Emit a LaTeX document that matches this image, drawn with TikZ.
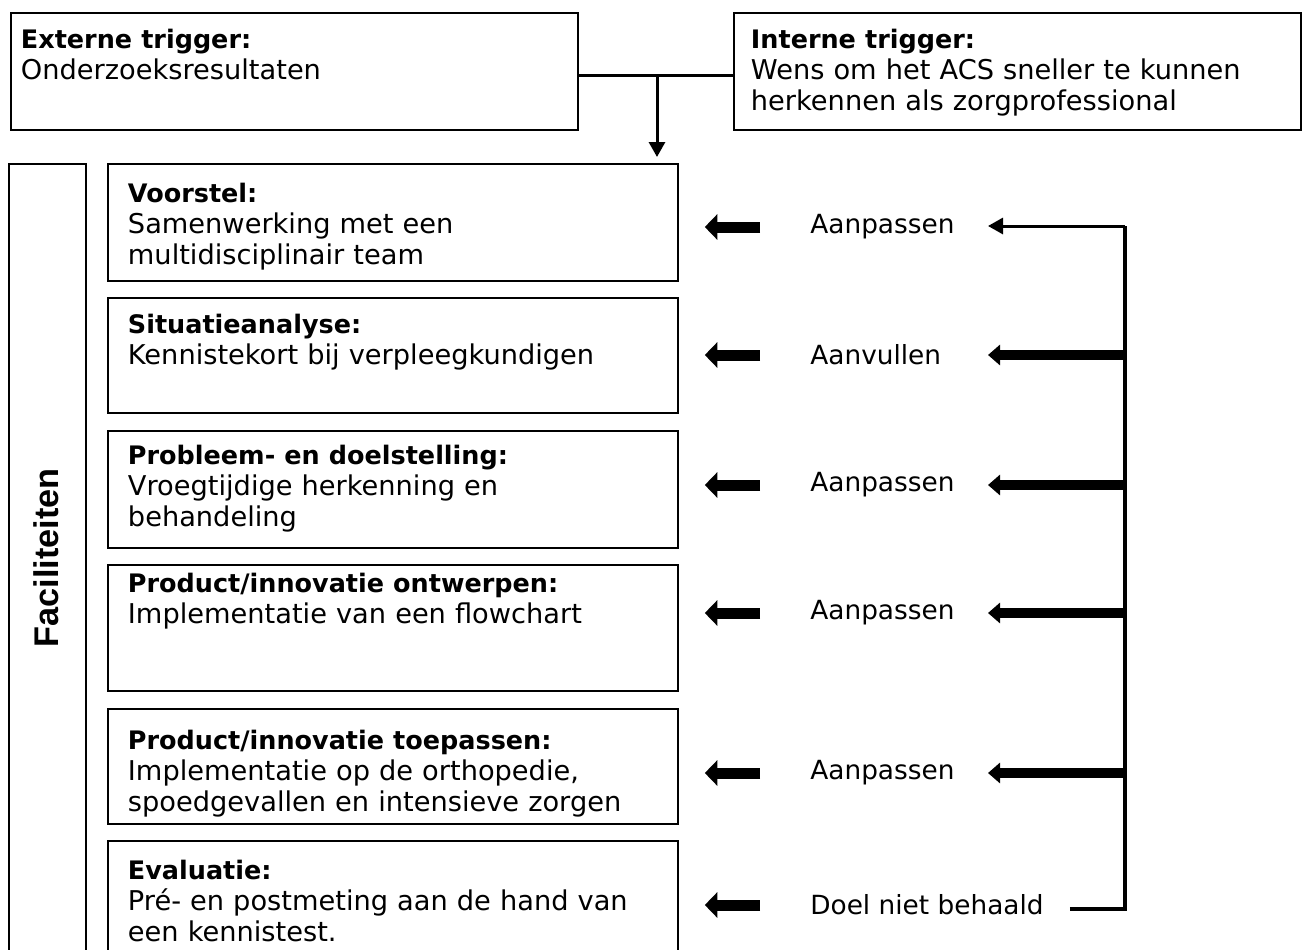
\documentclass[tikz,border=0pt]{standalone}
\usepackage{fontspec}
\setmainfont{DejaVu Sans}
\newfontfamily\facfont{Liberation Sans}
\usetikzlibrary{arrows.meta,positioning}
\newcommand\phasehead[1]{{\fontsize{14.5}{17.6}\selectfont\bfseries #1}}
\tikzset{
  >=Triangle,
  frame/.style={
    draw, line width=1.1pt,
    anchor=north west, align=left,
    inner ysep=0pt,
    font=\fontsize{15.5}{17.6}\selectfont
  },
  trigger/.style={
    frame, text height=0.72cm, text depth=1.62cm
  },
  phase/.style={
    frame, inner xsep=0.4cm, text width=10.6cm
  },
  faclabel/.style={
    rotate=90, inner sep=0pt,
    font=\facfont\bfseries\fontsize{19.5}{22}\selectfont
  },
  action/.style={
    anchor=west, inner sep=0pt,
    font=\fontsize{15}{17.6}\selectfont
  },
  back/.style={
    line width=0.22cm,
    -{Triangle[length=0.25cm,width=0.5cm]},
    shorten <=1cm, shorten >=0.52cm
  },
  feed/.style={
    line width=0.2cm,
    -{Triangle[length=0.24cm,width=0.4cm]}
  },
  rail/.style={
    line width=0.08cm
  },
  thinarrow/.style={
    line width=0.06cm,
    -{Triangle[length=0.3cm,width=0.32cm]}
  }
}

\begin{document}
\begin{tikzpicture}[x=0.02cm,y=-0.02cm]
  \useasboundingbox (0,0) rectangle (1302,950);
  \clip (0,0) rectangle (1302,950);

  \node[trigger,inner xsep=0.2cm,text width=10.94cm] (ext) at (10,12)
    {\phasehead{Externe trigger:}\\Onderzoeksresultaten};
  \node[trigger,inner xsep=0.34cm,text width=10.66cm] (int) at (733,12)
    {\phasehead{Interne trigger:}\\Wens om het ACS sneller te kunnen\\herkennen als zorgprofessional};

  \node[phase,text height=0.78cm,text depth=1.56cm] (voorstel) at (107,163)
    {\phasehead{Voorstel:}\\Samenwerking met een\\multidisciplinair team};
  \node[phase,text height=0.70cm,text depth=1.60cm,below=0.31cm of voorstel] (analyse)
    {\phasehead{Situatieanalyse:}\\Kennistekort bij verpleegkundigen};
  \node[phase,text height=0.68cm,text depth=1.66cm,below=0.31cm of analyse] (doel)
    {\phasehead{Probleem- en doelstelling:}\\Vroegtijdige herkenning en\\behandeling};
  \node[phase,text height=0.54cm,text depth=1.98cm,below=0.31cm of doel] (ontwerp)
    {\phasehead{Product/innovatie ontwerpen:}\\Implementatie van een flowchart};
  \node[phase,text height=0.82cm,text depth=1.48cm,below=0.31cm of ontwerp] (toepas)
    {\phasehead{Product/innovatie toepassen:}\\Implementatie op de orthopedie,\\spoedgevallen en intensieve zorgen};
  \node[phase,text height=0.77cm,text depth=1.65cm,below=0.31cm of toepas] (evaluatie)
    {\phasehead{Evaluatie:}\\Pré- en postmeting aan de hand van\\een kennistest.};

  \node[frame,minimum width=1.54cm,minimum height=16cm] (fac) at (8,163) {};
  \node[faclabel] (facname) at (46.5,558) {Faciliteiten};

  \coordinate (join) at (657,75);
  \draw[line width=0.06cm] (join -| ext.east) -- (join -| int.west);
  \draw[thinarrow,shorten >=0.12cm] (join) -- (join |- voorstel.north);

  \node[action] (a1) at (810,227) {Aanpassen};
  \node[action] (a2) at (810,355) {Aanvullen};
  \node[action] (a3) at (810,485) {Aanpassen};
  \node[action] (a4) at (810,613) {Aanpassen};
  \node[action] (a5) at (810,773) {Aanpassen};
  \node[action] (a6) at (810,905) {Doel niet behaald};

  \draw[back] (a1.west) -- (a1.west -| voorstel.east);
  \draw[back] (a2.west) -- (a2.west -| analyse.east);
  \draw[back] (a3.west) -- (a3.west -| doel.east);
  \draw[back] (a4.west) -- (a4.west -| ontwerp.east);
  \draw[back] (a5.west) -- (a5.west -| toepas.east);
  \draw[back] (a6.west) -- (a6.west -| evaluatie.east);

  \coordinate (rail) at (1125,226);
  \coordinate (tip) at (988,226);
  \draw[rail] ([xshift=0.52cm,yshift=-0.08cm]a6.east) -| (rail);
  \draw[thinarrow] (rail) -- (tip);
  \foreach \a in {a2,a3,a4,a5}
    \draw[feed] (rail |- \a) -- (tip |- \a);
\end{tikzpicture}
\end{document}
